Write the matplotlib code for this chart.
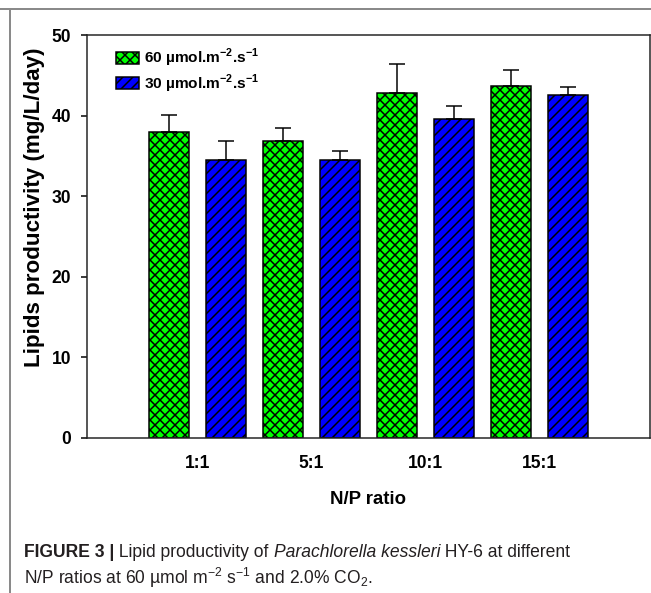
import matplotlib
matplotlib.use('Agg')
import matplotlib.pyplot as plt
from matplotlib import font_manager as fm
from matplotlib.patches import Patch
from matplotlib.lines import Line2D
import numpy as np

# ---- data ----
categories = ['1:1', '5:1', '10:1', '15:1']
series_labels = ['60 \u00b5mol.m$^{\\mathregular{-2}}$.s$^{\\mathregular{-1}}$',
                 '30 \u00b5mol.m$^{\\mathregular{-2}}$.s$^{\\mathregular{-1}}$']
high_light = [38.0, 36.8, 42.8, 43.7]
high_err = [2.1, 1.6, 3.6, 2.0]
low_light = [34.5, 34.5, 39.6, 42.5]
low_err = [2.3, 1.1, 1.6, 1.1]
y_ticks = [0, 10, 20, 30, 40, 50]
x_label = 'N/P ratio'
y_label = 'Lipids productivity (mg/L/day)'

DPI = 120
W, H = 651, 593
names = {f.name for f in fm.fontManager.ttflist}
FONT = 'Liberation Sans'
CAP_FONT = 'Liberation Sans Narrow' if 'Liberation Sans Narrow' in names else 'Liberation Sans'
plt.rcParams['font.family'] = [FONT, 'DejaVu Sans']
plt.rcParams['hatch.linewidth'] = 0.9

fig = plt.figure(figsize=(W / DPI, H / DPI), dpi=DPI)
ax = fig.add_axes([87 / W, 1 - 438 / H, 563 / W, 403 / H])

x = np.arange(len(categories))
bw = 0.35
off = 0.25
ekw = dict(elinewidth=0.9, capthick=0.9, ecolor='black', zorder=3)
ax.bar(x - off, high_light, bw, color='#00ff00', edgecolor='black', hatch='xxxx',
       linewidth=0.9, yerr=[np.zeros(len(high_err)), high_err], capsize=4.8,
       error_kw=ekw, zorder=2)
ax.bar(x + off, low_light, bw, color='#0000ff', edgecolor='black', hatch='////',
       linewidth=0.9, yerr=[np.zeros(len(low_err)), low_err], capsize=4.8,
       error_kw=ekw, zorder=2)

ax.set_xlim(-0.974, 3.974)
ax.set_ylim(0, 50)
ax.set_yticks(y_ticks)
ax.set_xticks(x)
ax.set_xticklabels(categories)
for s in ax.spines.values():
    s.set_linewidth(0.9)
    s.set_color('#222222')
ax.tick_params(axis='y', direction='out', length=3.6, width=0.9, pad=6, labelsize=10.5)
ax.tick_params(axis='x', length=0, pad=10, labelsize=10.5)
for lab in ax.get_xticklabels() + ax.get_yticklabels():
    lab.set_fontweight('bold')

fig.text(368 / W, 1 - 499 / H, x_label, ha='center', va='center', fontsize=11.2, fontweight='bold')
fig.text(35 / W, 1 - 207.5 / H, y_label, ha='center', va='center', rotation=90,
         fontsize=13.4, fontweight='bold')

handles = [Patch(facecolor='#00ff00', edgecolor='black', hatch='xxxx', linewidth=0.9),
           Patch(facecolor='#0000ff', edgecolor='black', hatch='////', linewidth=0.9)]
ax.legend(handles, series_labels, loc='upper left', bbox_to_anchor=((116 - 87) / 563, (438 - 47) / 403),
          frameon=False, borderpad=0, borderaxespad=0, handlelength=1.5, handleheight=0.8,
          handletextpad=0.35, labelspacing=0.2, prop=dict(family=FONT, weight='bold', size=9.2))

# frame lines
fig.add_artist(Line2D([0, 1], [1 - 9 / H, 1 - 9 / H], transform=fig.transFigure, color='#8a8a8a', lw=1.2))
fig.add_artist(Line2D([10 / W, 10 / W], [0, 1 - 9 / H], transform=fig.transFigure, color='#8a8a8a', lw=1.2))

# caption
cap_color = '#231f20'
cap_size = 10.5
renderer = fig.canvas.get_renderer()

def put_pieces(pieces, x0, y0):
    xx = x0
    for txt, kw in pieces:
        t = fig.text(xx / W, 1 - y0 / H, txt, ha='left', va='baseline', fontsize=cap_size,
                     color=cap_color, family=[CAP_FONT, 'DejaVu Sans'], **kw)
        bb = t.get_window_extent(renderer)
        xx = bb.x1

line1 = [('FIGURE 3 |', dict(fontweight='bold')),
         (' Lipid productivity of ', {}),
         ('Parachlorella kessleri', dict(style='italic')),
         (' HY-6 at different', {})]
line2 = [('N/P ratios at 60 \u00b5mol m$^{\\mathregular{\u22122}}$ s$^{\\mathregular{\u22121}}$ and 2.0% CO$_{\\mathregular{2}}$.', {})]
put_pieces(line1, 24, 557)
put_pieces(line2, 24, 584)

fig.savefig('out.png', dpi=DPI)
